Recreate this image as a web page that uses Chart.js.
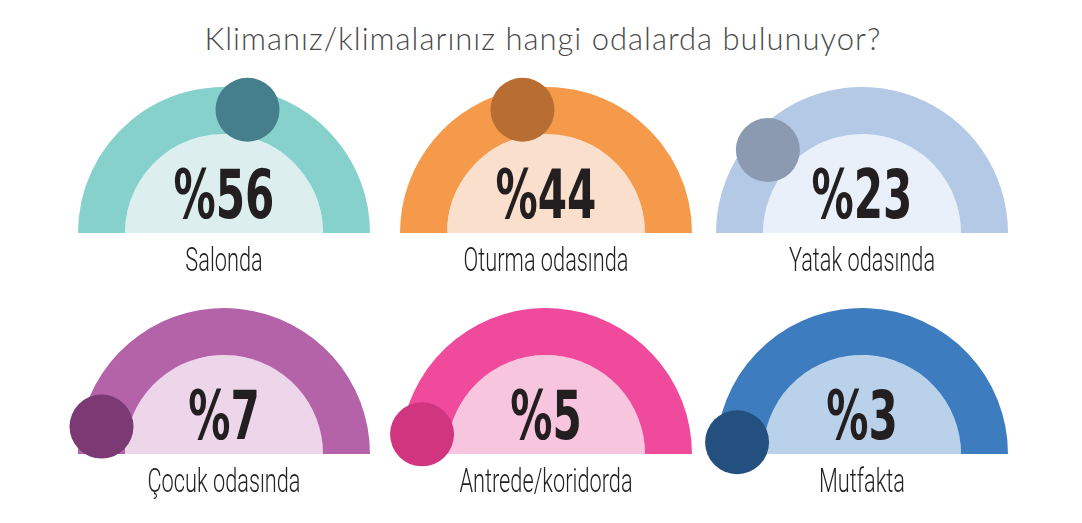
<!DOCTYPE html>
<html>
<head>
<meta charset="utf-8">
<script src="https://cdn.jsdelivr.net/npm/chart.js@4"></script>
<style>
  body { margin: 0; background: #fff; width: 1082px; height: 523px; overflow: hidden; position: relative; }
  #title { position: absolute; left: 0; width: 1086px; top: 19px; text-align: center; letter-spacing: 1px;
           font-family: Lato, sans-serif; font-weight: 300; font-size: 31px; color: #4a4a4a; }
  .gauge { position: absolute; width: 330px; height: 240px; }
</style>
</head>
<body>
<div id="title">Klimanız/klimalarınız hangi odalarda bulunuyor?</div>
<div class="gauge" style="left:59px;top:73px"><canvas id="g0"></canvas></div>
<div class="gauge" style="left:381px;top:73px"><canvas id="g1"></canvas></div>
<div class="gauge" style="left:697px;top:73px"><canvas id="g2"></canvas></div>
<div class="gauge" style="left:59px;top:294px"><canvas id="g3"></canvas></div>
<div class="gauge" style="left:381px;top:294px"><canvas id="g4"></canvas></div>
<div class="gauge" style="left:697px;top:294px"><canvas id="g5"></canvas></div>
<script>
const rooms = ['Salonda', 'Oturma odasında', 'Yatak odasında', 'Çocuk odasında', 'Antrede/koridorda', 'Mutfakta'];
const shares = [56, 44, 23, 7, 5, 3];

const ringColors = ['#86d1cc', '#f59a4b', '#b4c9e6', '#b563a9', '#ef4a9c', '#3e7cc0'];
const fillColors = ['#dcefee', '#fbdfcd', '#e9f0f9', '#edd5ea', '#f8c5de', '#bad1ea'];
const dotColors = ['#457f8c', '#b86e33', '#8b9ab1', '#7b3a73', '#d1357f', '#24507f'];

// dot on the ring at the end of the value arc, plus the big number and room name
const gaugeText = {
  id: 'gaugeText',
  afterDatasetsDraw(chart, args, opts) {
    const ctx = chart.ctx;
    const arc = chart.getDatasetMeta(0).data[0];
    const { x, y, endAngle, innerRadius, outerRadius } = arc.getProps(['x', 'y', 'endAngle', 'innerRadius', 'outerRadius'], true);
    const r = (innerRadius + outerRadius) / 2 + 3;
    ctx.save();
    ctx.fillStyle = opts.dot;
    ctx.beginPath();
    ctx.arc(x + Math.cos(endAngle) * r, y + Math.sin(endAngle) * r, 32, 0, Math.PI * 2);
    ctx.fill();

    ctx.textAlign = 'center';
    ctx.textBaseline = 'alphabetic';
    ctx.fillStyle = '#231f20';
    ctx.save();
    ctx.translate(x, y - 15);
    ctx.scale(0.62, 1);
    ctx.font = 'bold 68px "DejaVu Sans"';
    ctx.fillText('%' + opts.value, 0, 0);
    ctx.restore();

    ctx.fillStyle = '#222';
    ctx.save();
    ctx.translate(x, y + 38);
    ctx.scale(0.64, 1);
    ctx.font = '300 34px Roboto';
    ctx.fillText(opts.label, 0, 0);
    ctx.restore();
    ctx.restore();
  }
};

rooms.forEach((room, i) => {
  new Chart(document.getElementById('g' + i), {
    type: 'doughnut',
    data: {
      labels: [room, ''],
      datasets: [
        { data: [shares[i], 100 - shares[i]], backgroundColor: ringColors[i], borderWidth: 0, weight: 47 },
        { data: [100], backgroundColor: fillColors[i], borderWidth: 0, weight: 99 }
      ]
    },
    options: {
      responsive: true,
      maintainAspectRatio: false,
      animation: false,
      rotation: -90,
      circumference: 180,
      cutout: 0,
      layout: { padding: { top: 14, bottom: 80, left: 19, right: 19 } },
      plugins: {
        legend: { display: false },
        tooltip: { enabled: false },
        gaugeText: { value: shares[i], label: room, dot: dotColors[i] }
      }
    },
    plugins: [gaugeText]
  });
});
</script>
</body>
</html>
